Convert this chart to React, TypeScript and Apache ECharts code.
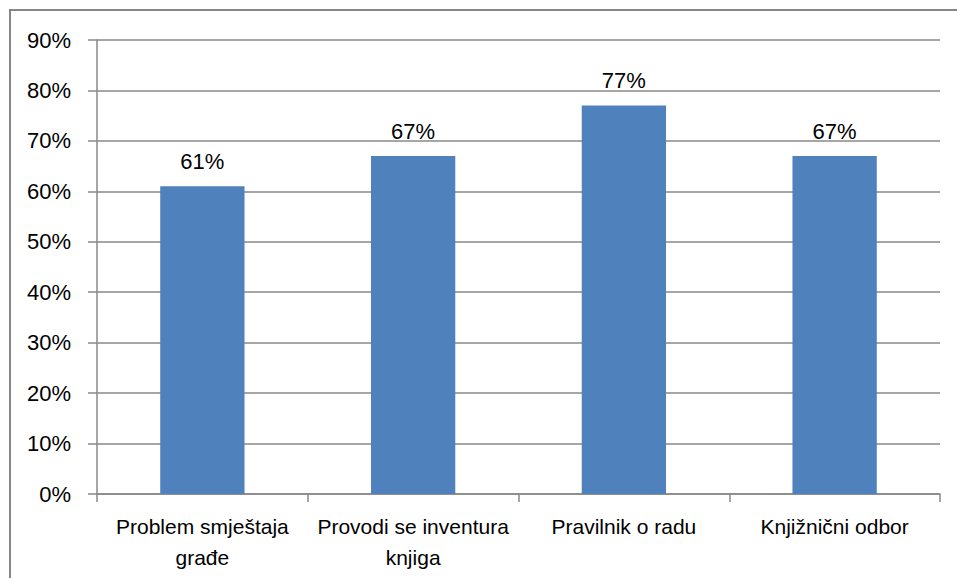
import React, { useEffect, useRef } from "react";
import * as echarts from "echarts";

const categories = [
  "Problem smještaja\ngrađe",
  "Provodi se inventura\nknjiga",
  "Pravilnik o radu",
  "Knjižnični odbor",
];
const values = [61, 67, 77, 67];
const yMax = 90;
const yInterval = 10;

const FONT = "'Liberation Sans', Arial, sans-serif";
const GRAY = "#888888";

export default function App() {
  const ref = useRef<HTMLDivElement>(null);
  useEffect(() => {
    if (!ref.current) return;
    const chart = echarts.init(ref.current, undefined, { renderer: "svg" });
    chart.setOption({
      animation: false,
      backgroundColor: "#ffffff",
      textStyle: { fontFamily: FONT },
      graphic: [
        {
          type: "rect",
          shape: { x: 10, y: 10, width: 980, height: 600 },
          style: { fill: "none", stroke: "#868686", lineWidth: 2 },
          silent: true,
        },
      ],
      grid: { left: 97, right: 17, top: 40, bottom: 84, containLabel: false },
      xAxis: {
        type: "category",
        data: categories,
        axisLine: { show: true, lineStyle: { color: GRAY, width: 1.5 } },
        axisTick: { show: true, alignWithLabel: false, length: 8, lineStyle: { color: GRAY, width: 1.5 } },
        axisLabel: {
          color: "#000",
          fontFamily: FONT,
          fontSize: 21,
          lineHeight: 31,
          margin: 17,
          interval: 0,
        },
      },
      yAxis: {
        type: "value",
        min: 0,
        max: yMax,
        interval: yInterval,
        axisLine: { show: true, lineStyle: { color: GRAY, width: 1.5 } },
        axisTick: { show: true, length: 9, lineStyle: { color: GRAY, width: 1.5 } },
        splitLine: { show: true, lineStyle: { color: GRAY, width: 1.5 } },
        axisLabel: {
          color: "#000",
          fontFamily: FONT,
          fontSize: 22,
          margin: 26,
          formatter: "{value}%",
        },
      },
      series: [
        {
          type: "bar",
          data: values,
          barWidth: "40%",
          itemStyle: { color: "#4F81BD" },
          label: {
            show: true,
            position: "top",
            distance: 14,
            color: "#000",
            fontFamily: FONT,
            fontSize: 22,
            formatter: "{c}%",
          },
        },
      ],
    });
    return () => chart.dispose();
  }, []);
  return <div ref={ref} style={{ width: 957, height: 578, position: "absolute", left: 0, top: 0 }} />;
}
